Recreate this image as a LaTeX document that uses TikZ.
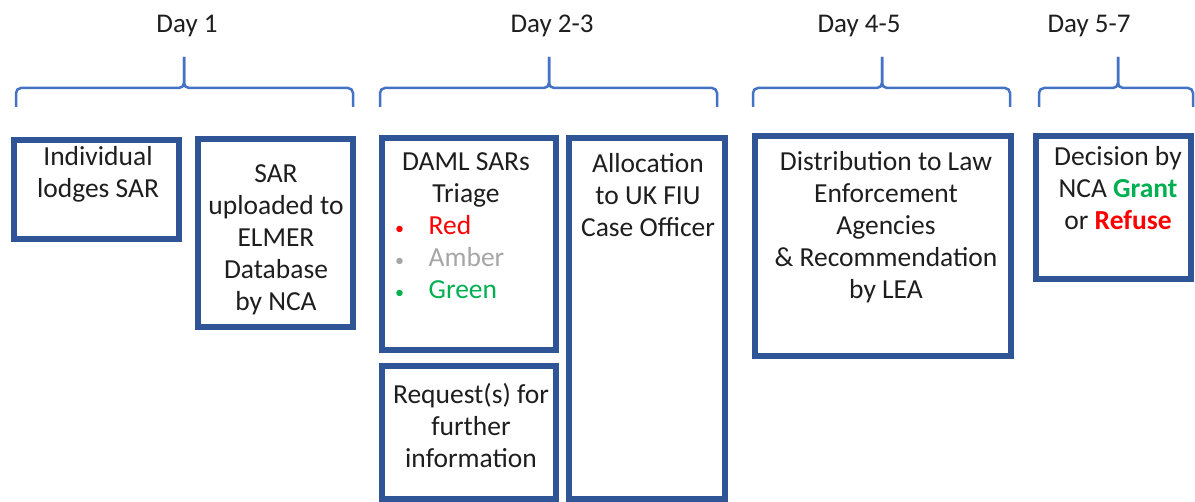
\documentclass[tikz,border=0pt]{standalone}
\usepackage{fontspec}
\setmainfont{Carlito}
\definecolor{stageblue}{HTML}{2F5597}
\definecolor{braceblue}{HTML}{4472C4}
\definecolor{textgray}{HTML}{1E1E1E}
\definecolor{triagered}{HTML}{FF0000}
\definecolor{triageamber}{HTML}{A6A6A6}
\definecolor{triagegreen}{HTML}{00B050}
\newcommand{\daybrace}[3]{%
	\draw[brace] (#1, 107) -- (#1, 88) -- (#2, 88) -- (#2, 57);
	\draw[brace] (#3, 107) -- (#3, 88) -- (#2, 88) -- (#2, 57);
}
\newcommand{\bulletitem}[2]{\makebox[34.5pt][l]{\color{#1}\hspace{1pt}\fontsize{18}{18}\selectfont\textbullet}{\color{#1}#2}}
\begin{document}
\begin{tikzpicture}[x = 1pt, y = -1pt,
		stage/.style = {draw = stageblue, line width = 5.5pt, inner sep = 0pt, outer sep = 0pt,
			anchor = north west},
		stagetext/.style = {align = center, text = textgray, inner sep = 0pt, anchor = north,
			font = \fontsize{27.5}{32}\selectfont},
		daylabel/.style = {text = textgray, inner sep = 0pt, anchor = base,
			font = \fontsize{27}{32}\selectfont},
		brace/.style = {draw = braceblue, line width = 2.5pt, rounded corners = 5pt}]
	\useasboundingbox (0, 0) rectangle (1195, 502);
	
	% Day labels
	\node[daylabel] (day1) at (187, 33) {Day 1};
	\node[daylabel] (day23) at (552, 33) {Day 2-3};
	\node[daylabel] (day45) at (859, 33) {Day 4-5};
	\node[daylabel] (day57) at (1089, 33) {Day 5-7};
	
	% Braces
	\daybrace{16}{184}{353}
	\daybrace{380}{549}{717}
	\daybrace{753}{882}{1010}
	\daybrace{1039}{1118}{1193}
	
	% Boxes
	\node[stage, minimum width = 165pt, minimum height = 99pt] (lodge) at (14, 140) {};
	\node[stage, minimum width = 155pt, minimum height = 188pt] (upload) at (198, 139) {};
	\node[stage, minimum width = 174pt, minimum height = 212pt] (triage) at (382, 138) {};
	\node[stage, minimum width = 174pt, minimum height = 133pt] (request) at (382, 366) {};
	\node[stage, minimum width = 156pt, minimum height = 361pt] (alloc) at (569, 138) {};
	\node[stage, minimum width = 256pt, minimum height = 220pt] (distrib) at (755, 136) {};
	\node[stage, minimum width = 155pt, minimum height = 143pt] (decision) at (1036, 136) {};
	
	% Texts
	\node[stagetext] (lodgetext) at (98, 142.6) {\strut Individual\\lodges SAR};
	\node[stagetext] (uploadtext) at (276, 159.6) {\strut SAR\\uploaded to\\ELMER\\Database\\by NCA};
	\node[stagetext] (triagetext) at (466, 147.6) {\strut DAML SARs\\Triage};
	\node[stagetext, align = left, anchor = north west] (triagelist) at (394, 211.6)
		{\strut\bulletitem{triagered}{Red}\\\bulletitem{triageamber}{Amber}\\\bulletitem{triagegreen}{Green}};
	\node[stagetext] (requesttext) at (471, 380.6) {\strut Request(s) for\\further\\information};
	\node[stagetext] (alloctext) at (648, 149.6) {\strut Allocation\\to UK FIU\\Case Officer};
	\node[stagetext] (distribtext) at (886, 147.6)
		{\strut Distribution to Law\\Enforcement\\Agencies\\\& Recommendation\\by LEA};
	\node[stagetext] (decisiontext) at (1118, 142.6)
		{\strut Decision by\\NCA \textbf{\color{triagegreen}Grant}\\or \textbf{\color{triagered}Refuse}};
\end{tikzpicture}
\end{document}
